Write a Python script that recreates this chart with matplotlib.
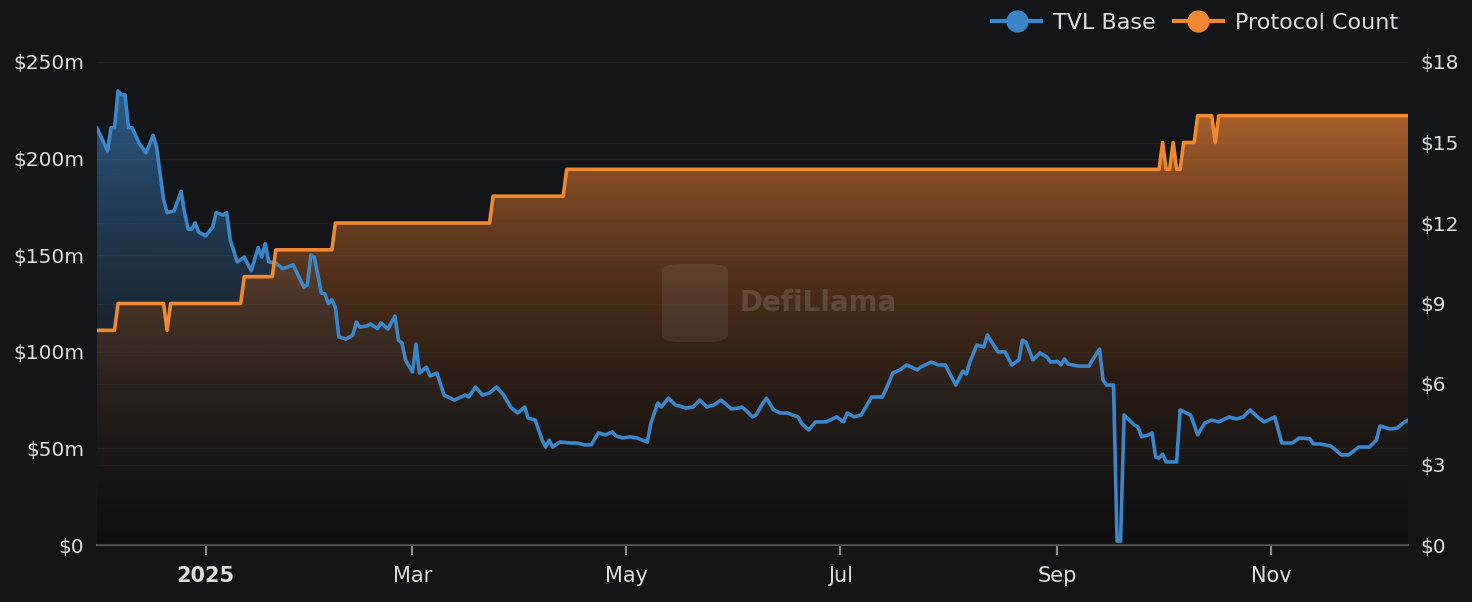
import matplotlib
matplotlib.use("Agg")
import matplotlib.pyplot as plt
import matplotlib.dates as mdates
import matplotlib.transforms as mtransforms
from matplotlib.patches import Polygon, FancyBboxPatch
from matplotlib.lines import Line2D
import numpy as np
import pandas as pd

# TVL Base, $m
tvl_dates = [
    "2024-12-01", "2024-12-04", "2024-12-05", "2024-12-06", "2024-12-07", "2024-12-08",
    "2024-12-09", "2024-12-10", "2024-12-11", "2024-12-13", "2024-12-15", "2024-12-17",
    "2024-12-18", "2024-12-20", "2024-12-21", "2024-12-23", "2024-12-25", "2024-12-26",
    "2024-12-27", "2024-12-28", "2024-12-29", "2024-12-30", "2025-01-01", "2025-01-03",
    "2025-01-04", "2025-01-06", "2025-01-07", "2025-01-08", "2025-01-10", "2025-01-12",
    "2025-01-14", "2025-01-16", "2025-01-17", "2025-01-18", "2025-01-19", "2025-01-21",
    "2025-01-23", "2025-01-26", "2025-01-27", "2025-01-29", "2025-01-30", "2025-01-31",
    "2025-02-01", "2025-02-03", "2025-02-04", "2025-02-05", "2025-02-06", "2025-02-07",
    "2025-02-08", "2025-02-10", "2025-02-12", "2025-02-13", "2025-02-14", "2025-02-16",
    "2025-02-17", "2025-02-19", "2025-02-20", "2025-02-22", "2025-02-24", "2025-02-25",
    "2025-02-26", "2025-02-27", "2025-03-01", "2025-03-02", "2025-03-03", "2025-03-05",
    "2025-03-06", "2025-03-08", "2025-03-10", "2025-03-13", "2025-03-16", "2025-03-17",
    "2025-03-19", "2025-03-21", "2025-03-23", "2025-03-25", "2025-03-27", "2025-03-29",
    "2025-03-31", "2025-04-02", "2025-04-03", "2025-04-05", "2025-04-07", "2025-04-08",
    "2025-04-09", "2025-04-10", "2025-04-12", "2025-04-15", "2025-04-17", "2025-04-19",
    "2025-04-21", "2025-04-23", "2025-04-25", "2025-04-27", "2025-04-28", "2025-04-30",
    "2025-05-02", "2025-05-04", "2025-05-07", "2025-05-08", "2025-05-10", "2025-05-11",
    "2025-05-13", "2025-05-15", "2025-05-17", "2025-05-18", "2025-05-20", "2025-05-22",
    "2025-05-24", "2025-05-26", "2025-05-28", "2025-05-29", "2025-05-31", "2025-06-02",
    "2025-06-03", "2025-06-04", "2025-06-06", "2025-06-07", "2025-06-09", "2025-06-10",
    "2025-06-12", "2025-06-14", "2025-06-16", "2025-06-19", "2025-06-20", "2025-06-22",
    "2025-06-24", "2025-06-27", "2025-06-30", "2025-07-02", "2025-07-03", "2025-07-05",
    "2025-07-07", "2025-07-10", "2025-07-13", "2025-07-14", "2025-07-16", "2025-07-18",
    "2025-07-20", "2025-07-23", "2025-07-24", "2025-07-27", "2025-07-29", "2025-07-31",
    "2025-08-03", "2025-08-05", "2025-08-06", "2025-08-07", "2025-08-09", "2025-08-11",
    "2025-08-12", "2025-08-15", "2025-08-17", "2025-08-19", "2025-08-21", "2025-08-22",
    "2025-08-23", "2025-08-25", "2025-08-27", "2025-08-29", "2025-08-30", "2025-09-01",
    "2025-09-02", "2025-09-03", "2025-09-04", "2025-09-07", "2025-09-10", "2025-09-11",
    "2025-09-13", "2025-09-14", "2025-09-15", "2025-09-17", "2025-09-18", "2025-09-19",
    "2025-09-20", "2025-09-23", "2025-09-24", "2025-09-25", "2025-09-27", "2025-09-28",
    "2025-09-29", "2025-09-30", "2025-10-01", "2025-10-02", "2025-10-05", "2025-10-06",
    "2025-10-09", "2025-10-11", "2025-10-13", "2025-10-15", "2025-10-17", "2025-10-20",
    "2025-10-22", "2025-10-24", "2025-10-26", "2025-10-28", "2025-10-30", "2025-11-02",
    "2025-11-04", "2025-11-05", "2025-11-07", "2025-11-09", "2025-11-12", "2025-11-13",
    "2025-11-15", "2025-11-18", "2025-11-21", "2025-11-23", "2025-11-26", "2025-11-29",
    "2025-12-01", "2025-12-02", "2025-12-05", "2025-12-07", "2025-12-09", "2025-12-10",
]
tvl_values = [
    215.8, 204.0, 216.0, 216.0, 235.0, 233.0,
    233.0, 216.0, 216.0, 208.0, 203.0, 212.0,
    206.0, 178.6, 172.0, 173.0, 183.0, 172.0,
    163.5, 163.5, 166.7, 162.0, 160.0, 164.6,
    172.0, 170.8, 172.0, 158.0, 146.5, 149.0,
    142.0, 154.0, 149.0, 156.0, 146.5, 146.0,
    143.0, 145.0, 141.0, 133.5, 134.6, 150.0,
    149.0, 130.4, 130.0, 125.0, 127.0, 123.0,
    107.7, 106.6, 108.7, 115.4, 112.8, 113.4,
    114.4, 112.0, 115.0, 111.8, 118.5, 106.0,
    104.6, 95.8, 89.5, 104.0, 89.0, 92.0,
    87.5, 89.0, 77.6, 75.0, 77.6, 76.6,
    81.8, 77.6, 78.7, 81.8, 77.6, 71.4,
    68.3, 71.4, 65.7, 64.7, 54.3, 50.7,
    54.3, 50.7, 53.3, 52.8, 52.8, 51.8,
    51.8, 58.0, 57.0, 58.5, 56.5, 55.4,
    56.0, 55.4, 53.3, 63.0, 73.5, 71.4,
    76.0, 72.5, 71.4, 70.9, 71.4, 75.0,
    71.4, 72.5, 75.0, 73.5, 70.4, 70.9,
    71.4, 69.9, 66.3, 67.3, 73.5, 76.0,
    69.9, 68.3, 68.3, 66.3, 63.0, 59.5,
    63.7, 63.7, 66.3, 63.7, 68.3, 66.3,
    67.3, 76.6, 76.6, 80.2, 89.0, 90.6,
    93.2, 90.6, 92.1, 94.7, 93.2, 93.2,
    82.8, 90.0, 88.5, 94.7, 103.5, 102.5,
    108.7, 100.0, 100.0, 93.2, 95.8, 106.0,
    105.0, 95.8, 99.4, 97.3, 94.7, 95.0,
    93.2, 96.3, 93.7, 92.6, 92.6, 95.8,
    101.4, 85.4, 82.8, 82.8, 2.0, 2.0,
    67.3, 62.0, 61.0, 56.0, 57.0, 58.0,
    45.5, 45.0, 47.0, 43.0, 43.0, 69.9,
    67.3, 57.0, 63.1, 64.7, 63.7, 66.3,
    65.2, 66.3, 69.9, 66.3, 63.7, 66.3,
    52.8, 52.8, 52.8, 55.4, 55.0, 52.3,
    52.3, 51.2, 46.6, 46.6, 50.7, 50.7,
    54.3, 61.6, 60.0, 60.6, 63.7, 64.5,
]

# Protocol Count
proto_dates = [
    "2024-12-01", "2024-12-06", "2024-12-07", "2024-12-20", "2024-12-21", "2024-12-22",
    "2025-01-11", "2025-01-12", "2025-01-20", "2025-01-21", "2025-02-06", "2025-02-07",
    "2025-03-23", "2025-03-24", "2025-04-13", "2025-04-14", "2025-09-30", "2025-10-01",
    "2025-10-02", "2025-10-03", "2025-10-04", "2025-10-05", "2025-10-06", "2025-10-07",
    "2025-10-10", "2025-10-11", "2025-10-15", "2025-10-16", "2025-10-17", "2025-12-10",
]
proto_counts = [
    8, 8, 9, 9, 8, 9,
    9, 10, 10, 11, 11, 12,
    12, 13, 13, 14, 14, 15,
    14, 14, 15, 14, 14, 15,
    15, 16, 16, 15, 16, 16,
]

left_ticks = [0, 50, 100, 150, 200, 250]
right_ticks = [0, 3, 6, 9, 12, 15, 18]
x_ticks = ["2025-01-01", "2025-03-01", "2025-05-01", "2025-07-01", "2025-09-01", "2025-11-01"]
x_labels = ["2025", "Mar", "May", "Jul", "Sep", "Nov"]

BG = "#141518"
BLUE = "#3a86c8"
ORANGE = "#f0882f"
TXT = "#dcdcdc"

plt.rcParams["font.family"] = ["DejaVu Sans"]

tx = mdates.date2num(pd.to_datetime(tvl_dates))
px = mdates.date2num(pd.to_datetime(proto_dates))
tv = np.array(tvl_values)
pc = np.array(proto_counts, dtype=float)

fig = plt.figure(figsize=(14.72, 6.02), dpi=100, facecolor=BG)
ax = fig.add_axes([97 / 1472, 1 - 545 / 602, (1408 - 97) / 1472, (545 - 62) / 602])
ax.set_facecolor(BG)
ax2 = ax.twinx()


def gradient_area(axis, x, y, rgba, trans):
    # rgba: (256, 4) colours from top (series max) to bottom (zero)
    verts = [(x[0], 0)] + list(zip(x, y)) + [(x[-1], 0)]
    poly = Polygon(verts, closed=True, facecolor="none", edgecolor="none", transform=trans)
    axis.add_patch(poly)
    im = axis.imshow(rgba[:, None, :], aspect="auto", origin="upper",
                     extent=[x[0], x[-1], 0, y.max()], transform=trans,
                     interpolation="bilinear", zorder=1)
    im.set_clip_path(poly)
    return im


t = np.linspace(1.0, 0.0, 256)

blue_grad = np.zeros((256, 4))
blue_grad[:, :3] = np.array([58, 134, 200]) / 255
blue_grad[:, 3] = 0.64 * t ** 2

orange_grad = np.zeros((256, 4))
orange_grad[:, :3] = np.outer(t ** 1.1, np.array([205, 115, 50]) / 255)
orange_grad[:, 3] = 0.25 + 0.55 * t

# faint grid for both scales, below the areas
grid_tr = mtransforms.blended_transform_factory(ax.transAxes, ax2.transData)
for v in left_ticks[1:]:
    ax.axhline(v, color="#222327", lw=1, zorder=0)
for v in right_ticks[1:]:
    ax.plot([0, 1], [v, v], color="#1d1e22", lw=1, zorder=0, transform=grid_tr)

# blue area on left axis (bottom layer), orange area above it
gradient_area(ax, tx, tv, blue_grad, ax.transData)
gradient_area(ax2, px, pc, orange_grad, ax2.transData)
# lines on top
ax2.plot(tx, tv, color=BLUE, lw=2.6, transform=ax.transData, zorder=3,
         solid_joinstyle="round")
ax2.plot(px, pc, color=ORANGE, lw=2.6, zorder=4, solid_joinstyle="round")

ax.set_xlim(tx[0], tx[-1])
ax.set_ylim(0, 250)
ax2.set_ylim(0, 18)
ax2.set_xlim(tx[0], tx[-1])

ax.set_yticks(left_ticks)
ax.set_yticklabels(["$0"] + ["$%dm" % v for v in left_ticks[1:]])
ax2.set_yticks(right_ticks)
ax2.set_yticklabels(["$%d" % v for v in right_ticks])

ax.set_xticks(mdates.date2num(pd.to_datetime(x_ticks)))
ax.set_xticklabels(x_labels)
ax.get_xticklabels()[0].set_fontweight("bold")

for a in (ax, ax2):
    for s in a.spines.values():
        s.set_visible(False)
ax.spines["bottom"].set_visible(True)
ax.spines["bottom"].set_color("#55575c")
ax.spines["bottom"].set_linewidth(1.5)

ax.tick_params(axis="x", colors="#8a8c90", length=7, width=1.5, pad=8,
               labelsize=15, labelcolor=TXT)
ax.tick_params(axis="y", length=0, pad=9, labelsize=14.5, labelcolor=TXT)
ax2.tick_params(axis="y", length=0, pad=9, labelsize=14.5, labelcolor=TXT)

# watermark
fig.text(818 / 1472, 1 - 303 / 602, "DefiLlama", color="white", alpha=0.14,
         fontsize=20, fontweight="bold", ha="center", va="center")
fig.patches.append(FancyBboxPatch((662 / 1472, 1 - 342 / 602), 66 / 1472, 78 / 602,
                                  boxstyle="round,pad=0,rounding_size=0.012",
                                  transform=fig.transFigure, facecolor="white",
                                  alpha=0.07, edgecolor="none"))

handles = [
    Line2D([], [], color=BLUE, lw=3, marker="o", markersize=15),
    Line2D([], [], color=ORANGE, lw=3, marker="o", markersize=15),
]
fig.legend(handles, ["TVL Base", "Protocol Count"], loc="center right",
           bbox_to_anchor=(1398 / 1472, 1 - 23 / 602), ncol=2, frameon=False,
           fontsize=16, labelcolor=TXT, handlelength=2.2, handletextpad=0.55,
           columnspacing=0.8, borderpad=0, borderaxespad=0)

fig.savefig("out.png", dpi=100, facecolor=BG)
